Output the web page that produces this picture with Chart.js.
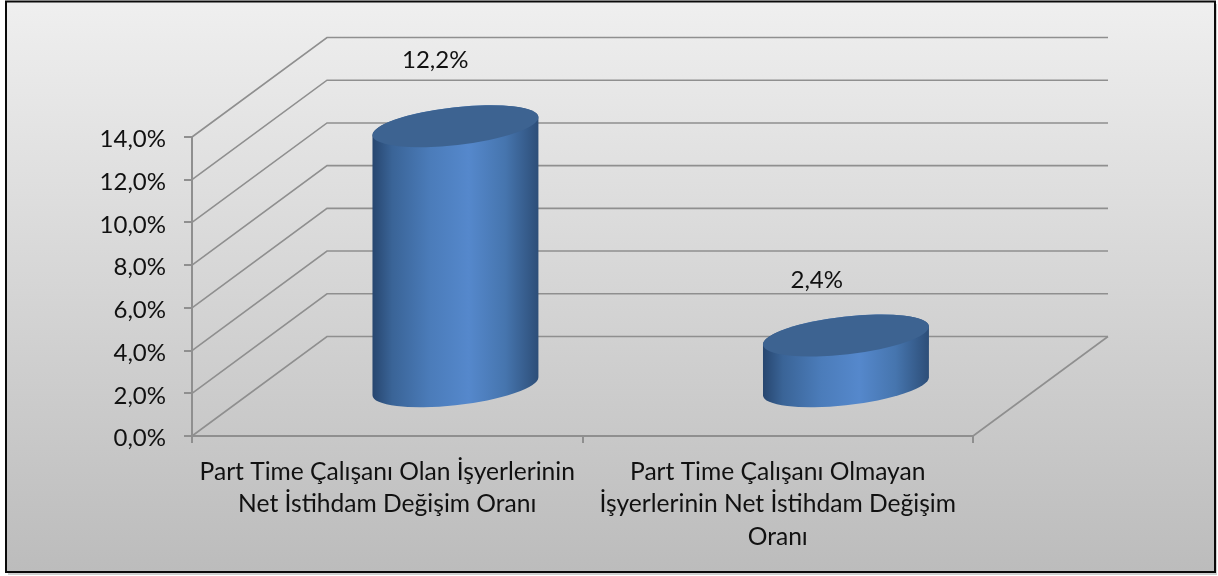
<!DOCTYPE html>
<html><head><meta charset="utf-8">
<style>html,body{margin:0;padding:0;background:#fff}canvas{display:block}</style>
<script src="https://cdn.jsdelivr.net/npm/chart.js@4"></script>
</head><body>
<div style="width:1218px;height:576px"><canvas id="c" width="1218" height="576"></canvas></div>
<script>
const categories = [
  ["Part Time Çalışanı Olan İşyerlerinin", "Net İstihdam Değişim Oranı"],
  ["Part Time Çalışanı Olmayan", "İşyerlerinin Net İstihdam Değişim", "Oranı"]
];
const values = [12.2, 2.4];
const valueLabels = ["12,2%", "2,4%"];
const yMax = 14, yStep = 2;

const FONT = "Lato, Carlito, Calibri, sans-serif";
const DEPTH = {x: 135, y: -99.5};
const GRID = "#8f8f8f";
const labelShift = [{x: 48, y: -115}, {x: 39, y: -104}];
const fmt = v => v.toFixed(1).replace(".", ",") + "%";

const background = {
  id: "background",
  beforeDraw(ch) {
    const c = ch.ctx;
    c.save();
    c.fillStyle = "#d0d0d0";
    c.fillRect(8, 4, 1209, 571);
    const g = c.createLinearGradient(0, 2, 0, 571);
    g.addColorStop(0, "#efefef");
    g.addColorStop(1, "#bcbcbc");
    c.fillStyle = g;
    c.fillRect(6, 1, 1209, 571);
    c.strokeStyle = "#0a0a0a";
    c.lineWidth = 2;
    c.strokeRect(6, 1.5, 1209, 570.5);
    c.restore();
  }
};

const walls = {
  id: "walls",
  beforeDatasetsDraw(ch) {
    const c = ch.ctx, y = ch.scales.y, a = ch.chartArea;
    c.save();
    c.strokeStyle = GRID;
    c.lineWidth = 1.6;
    for (let v = 0; v <= yMax; v += yStep) {
      const py = y.getPixelForValue(v);
      c.beginPath();
      c.moveTo(a.left, py);
      c.lineTo(a.left + DEPTH.x, py + DEPTH.y);
      c.lineTo(a.right + DEPTH.x, py + DEPTH.y);
      c.stroke();
    }
    const p0 = y.getPixelForValue(0);
    c.beginPath();
    c.moveTo(a.right, p0);
    c.lineTo(a.right + DEPTH.x, p0 + DEPTH.y);
    c.stroke();
    c.restore();
  }
};

const cylinders = {
  id: "cylinders",
  afterDatasetsDraw(ch) {
    const c = ch.ctx, meta = ch.getDatasetMeta(0), y0 = ch.scales.y.getPixelForValue(0);
    const rot = -6.5 * Math.PI / 180;
    meta.data.forEach((el, i) => {
      const hw = el.width / 2;
      const A = hw * 1.006, B = hw * 0.228;
      const cx = el.x + DEPTH.x / 2 + 0.7;
      const top = el.y + DEPTH.y / 2 + 0.5, bot = y0 + DEPTH.y / 2;
      const t0 = Math.atan(-(B / A) * Math.tan(rot));
      c.save();
      const g = c.createLinearGradient(cx - hw, 0, cx + hw, 0);
      g.addColorStop(0, "#27466f");
      g.addColorStop(0.12, "#3a6497");
      g.addColorStop(0.35, "#4b7cba");
      g.addColorStop(0.58, "#5588cc");
      g.addColorStop(0.8, "#4675ae");
      g.addColorStop(1, "#2d4e78");
      c.fillStyle = g;
      c.beginPath();
      c.ellipse(cx, bot, A, B, rot, t0, t0 + Math.PI, false);
      c.ellipse(cx, top, A, B, rot, t0 + Math.PI, t0, false);
      c.closePath();
      c.fill();
      c.fillStyle = "#3d6391";
      c.beginPath();
      c.ellipse(cx, top, A, B, rot, 0, 2 * Math.PI);
      c.fill();
      c.fillStyle = "#111";
      c.font = "24px " + FONT;
      c.textAlign = "center";
      c.textBaseline = "middle";
      c.fillText(valueLabels[i], el.x + labelShift[i].x, el.y + labelShift[i].y);
      c.restore();
    });
  }
};

new Chart(document.getElementById("c"), {
  type: "bar",
  data: {
    labels: categories,
    datasets: [{
      data: values,
      backgroundColor: "rgba(0,0,0,0)",
      borderWidth: 0,
      barPercentage: 0.425,
      categoryPercentage: 1
    }]
  },
  options: {
    responsive: false,
    animation: false,
    layout: {padding: {top: 137, right: 245, left: 0, bottom: 0}},
    plugins: {legend: {display: false}, tooltip: {enabled: false}},
    scales: {
      x: {
        afterFit(s) { s.height = 140; },
        border: {color: GRID, width: 2},
        grid: {drawOnChartArea: false, color: GRID, tickLength: 7, lineWidth: 2},
        ticks: {
          color: "#111",
          font: {family: FONT, size: 24.6, lineHeight: 1.31},
          padding: 13,
          maxRotation: 0,
          autoSkip: false
        }
      },
      y: {
        min: 0, max: yMax,
        afterFit(s) { s.width = 192; },
        border: {color: GRID, width: 2},
        grid: {drawOnChartArea: false, color: GRID, tickLength: 8, lineWidth: 2},
        ticks: {
          stepSize: yStep,
          color: "#111",
          font: {family: FONT, size: 24},
          padding: 18,
          labelOffset: 2.5,
          callback: fmt
        }
      }
    }
  },
  plugins: [background, walls, cylinders]
});
</script>
</body></html>
